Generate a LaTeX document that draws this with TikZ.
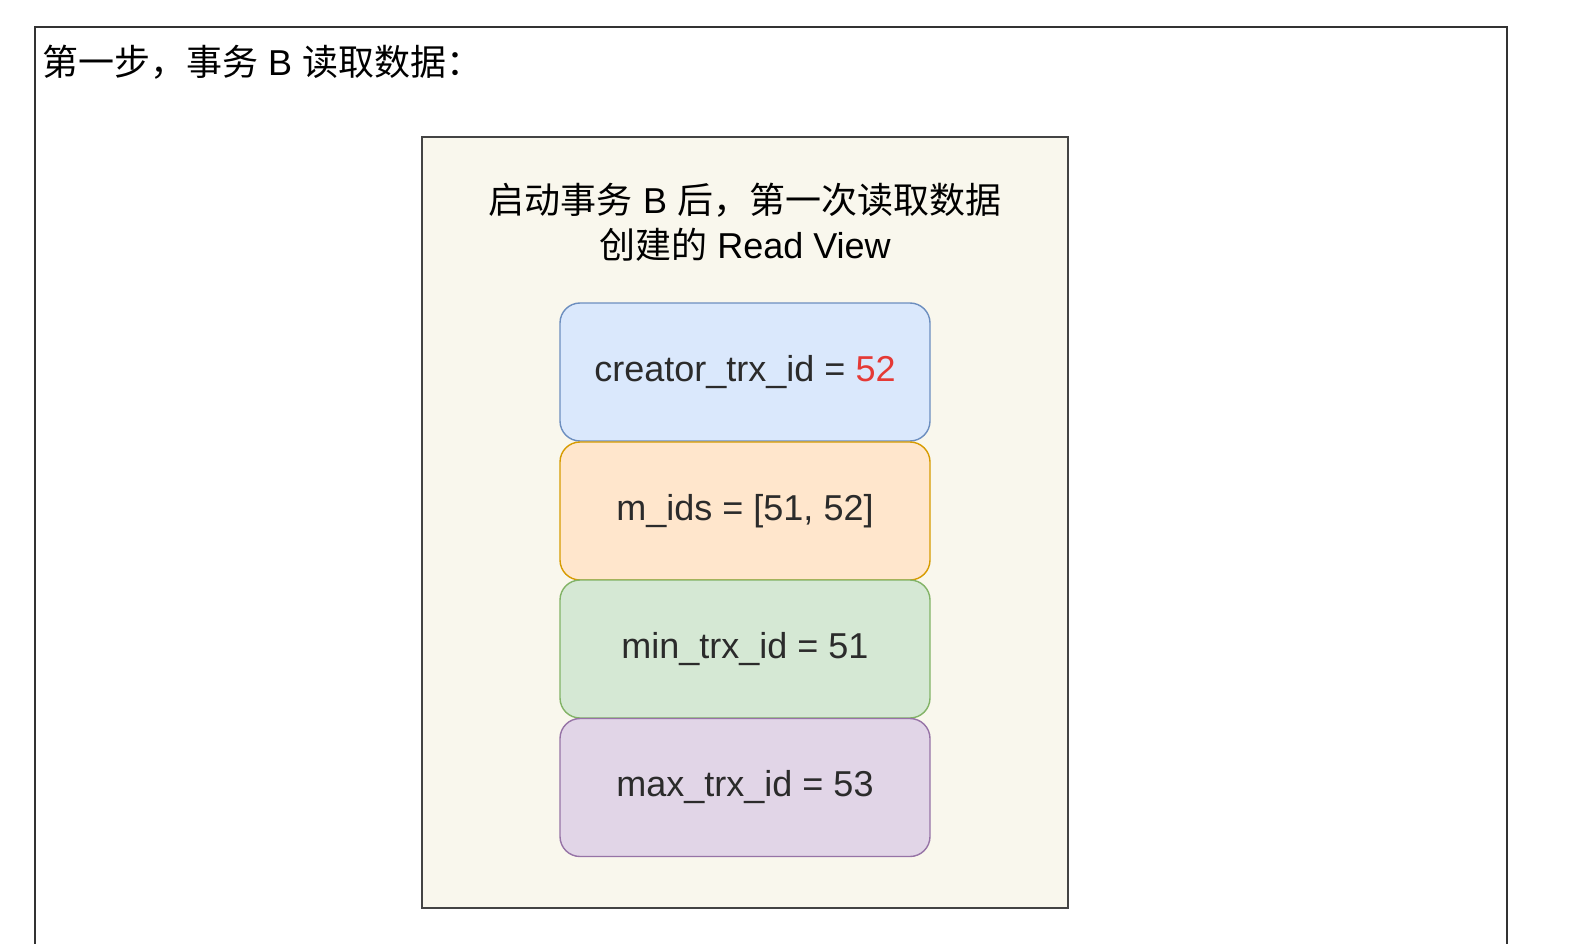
\documentclass[tikz,border=0pt]{standalone}
\usepackage{fontspec}
\setmainfont{Liberation Sans}
\newfontfamily\cjk{Noto Sans CJK SC}
\definecolor{frameline}{HTML}{333333}
\definecolor{panelfill}{HTML}{F9F7ED}
\definecolor{panelline}{HTML}{444444}
\definecolor{bluefill}{HTML}{DAE8FC}
\definecolor{blueline}{HTML}{6C8EBF}
\definecolor{orangefill}{HTML}{FFE6CC}
\definecolor{orangeline}{HTML}{D79B00}
\definecolor{greenfill}{HTML}{D5E8D4}
\definecolor{greenline}{HTML}{82B366}
\definecolor{purplefill}{HTML}{E1D5E7}
\definecolor{purpleline}{HTML}{9673A6}
\definecolor{boxtext}{HTML}{2B2B2B}
\definecolor{hired}{HTML}{E53935}
\tikzset{
  field/.style={draw, line width=1.4pt, rounded corners=20pt, minimum width=370pt,
    minimum height=138pt, inner sep=0pt, text=boxtext,
    font=\fontsize{36pt}{40pt}\selectfont},
}
\begin{document}
\begin{tikzpicture}[x=1pt,y=-1pt]
\useasboundingbox (0,0) rectangle (1574,944);
\fill[white] (0,0) rectangle (1574,944);
% outer frame (open at the bottom)
\draw[frameline, line width=2.2pt] (35,944) -- (35,27) -- (1507,27) -- (1507,944);
\node[anchor=west, inner sep=0pt, font=\fontsize{36pt}{40pt}\selectfont] (title) at (42,62)
  {{\cjk 第一步，事务} B {\cjk 读取数据：}};
% panel
\node[draw=panelline, fill=panelfill, line width=2pt, minimum width=646pt, minimum height=771pt,
  inner sep=0pt] (panel) at (745,522.5) {};
\node[align=center, inner sep=0pt, font=\fontsize{36pt}{45pt}\selectfont] (ptitle) at (745,222)
  {{\cjk 启动事务} B {\cjk 后，第一次读取数据}\\{\cjk 创建的} Read View};
\node[field, fill=bluefill, draw=blueline] (creator) at (745,372) {creator\_trx\_id = \textcolor{hired}{52}};
\node[field, fill=orangefill, draw=orangeline] (mids) at (745,511) {m\_ids = [51, 52]};
\node[field, fill=greenfill, draw=greenline] (minid) at (745,649) {min\_trx\_id = 51};
\node[field, fill=purplefill, draw=purpleline] (maxid) at (745,787.5) {max\_trx\_id = 53};
\end{tikzpicture}
\end{document}
